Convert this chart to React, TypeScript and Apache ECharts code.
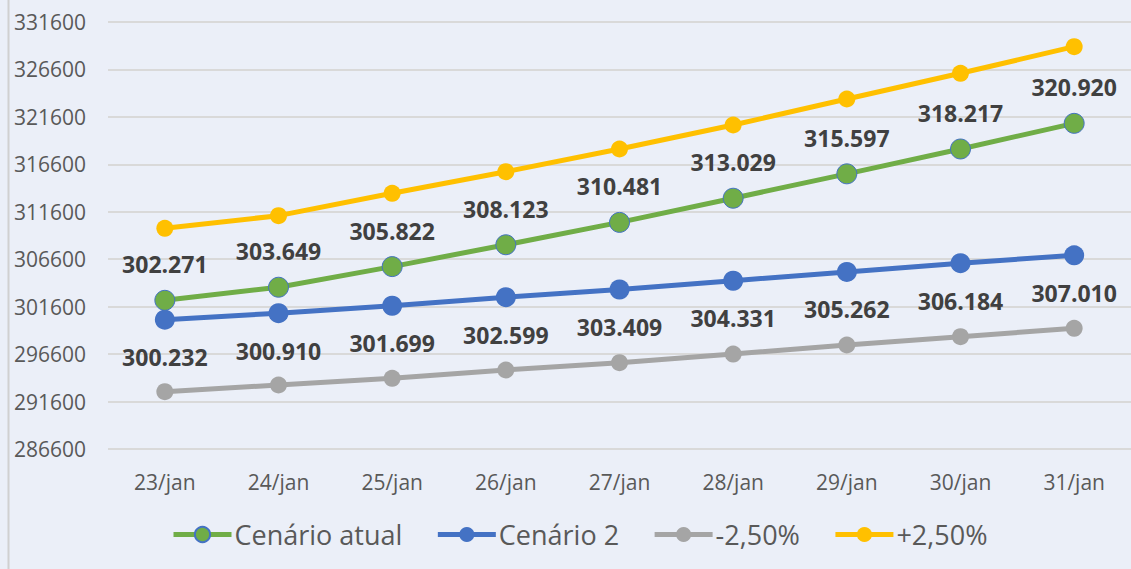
import React, { useEffect, useRef } from "react";
import * as echarts from "echarts";

const categories = ["23/jan", "24/jan", "25/jan", "26/jan", "27/jan", "28/jan", "29/jan", "30/jan", "31/jan"];
const cenarioAtual = [302271, 303649, 305822, 308123, 310481, 313029, 315597, 318217, 320920];
const cenario2 = [300232, 300910, 301699, 302599, 303409, 304331, 305262, 306184, 307010];
const menos250 = [292640, 293345, 294050, 294925, 295695, 296610, 297560, 298435, 299320];
const mais250 = [309860, 311190, 313550, 315820, 318215, 320745, 323485, 326195, 329000];
const seriesNames = ["Cenário atual", "Cenário 2", "-2,50%", "+2,50%"];

const FONT = "'Open Sans', 'Noto Sans', sans-serif";
const fmt = (v: number) => (v / 1000).toFixed(3);

export default function App() {
  const ref = useRef<HTMLDivElement>(null);
  useEffect(() => {
    if (!ref.current) return;
    const chart = echarts.init(ref.current, undefined, { renderer: "svg" });
    const labelStyle = {
      show: true,
      fontFamily: FONT,
      fontSize: 23,
      fontWeight: "bold" as const,
      color: "#404040",
      formatter: (p: any) => fmt(p.value),
    };
    chart.setOption({
      animation: false,
      backgroundColor: "#EBEFF8",
      textStyle: { fontFamily: FONT },
      graphic: [
        { type: "line", shape: { x1: 8.5, y1: 0, x2: 8.5, y2: 569 }, style: { stroke: "#D0D0D0", lineWidth: 2 } },
      ],
      grid: { left: 108, top: 22, width: 1026, height: 427, containLabel: false },
      legend: {
        data: seriesNames,
        left: 166,
        top: 516,
        itemWidth: 58,
        itemHeight: 19,
        itemGap: 33,
        lineStyle: { width: 5 },
        textStyle: { fontFamily: FONT, fontSize: 27, color: "#595959", padding: [0, 0, 0, -2] },
      },
      xAxis: {
        type: "category",
        data: categories,
        boundaryGap: true,
        axisLine: { show: false },
        axisTick: { show: false },
        axisLabel: { color: "#595959", fontFamily: FONT, fontSize: 21, margin: 22 },
      },
      yAxis: {
        type: "value",
        min: 286600,
        max: 331600,
        interval: 5000,
        axisLine: { show: false },
        axisTick: { show: false },
        axisLabel: { color: "#595959", fontFamily: FONT, fontSize: 21, margin: 22, formatter: (v: number) => String(v) },
        splitLine: { lineStyle: { color: "#D9D9D9", width: 2 } },
      },
      series: [
        {
          name: seriesNames[0],
          type: "line",
          data: cenarioAtual,
          symbol: "circle",
          symbolSize: 20,
          lineStyle: { color: "#70AD47", width: 5 },
          itemStyle: { color: "#70AD47", borderColor: "#4472C4", borderWidth: 1 },
          label: { ...labelStyle, position: "top", distance: 14 },
          z: 4,
        },
        {
          name: seriesNames[1],
          type: "line",
          data: cenario2,
          symbol: "circle",
          symbolSize: 20,
          lineStyle: { color: "#4472C4", width: 5 },
          itemStyle: { color: "#4472C4" },
          label: { ...labelStyle, position: "bottom", distance: 16 },
          z: 3,
        },
        {
          name: seriesNames[2],
          type: "line",
          data: menos250,
          symbol: "circle",
          symbolSize: 17,
          lineStyle: { color: "#A5A5A5", width: 5 },
          itemStyle: { color: "#A5A5A5" },
          z: 2,
        },
        {
          name: seriesNames[3],
          type: "line",
          data: mais250,
          symbol: "circle",
          symbolSize: 17,
          lineStyle: { color: "#FFC000", width: 5 },
          itemStyle: { color: "#FFC000" },
          z: 2,
        },
      ],
    });
    return () => chart.dispose();
  }, []);
  return <div ref={ref} style={{ position: "fixed", left: 0, top: 0, width: 1131, height: 569 }} />;
}
